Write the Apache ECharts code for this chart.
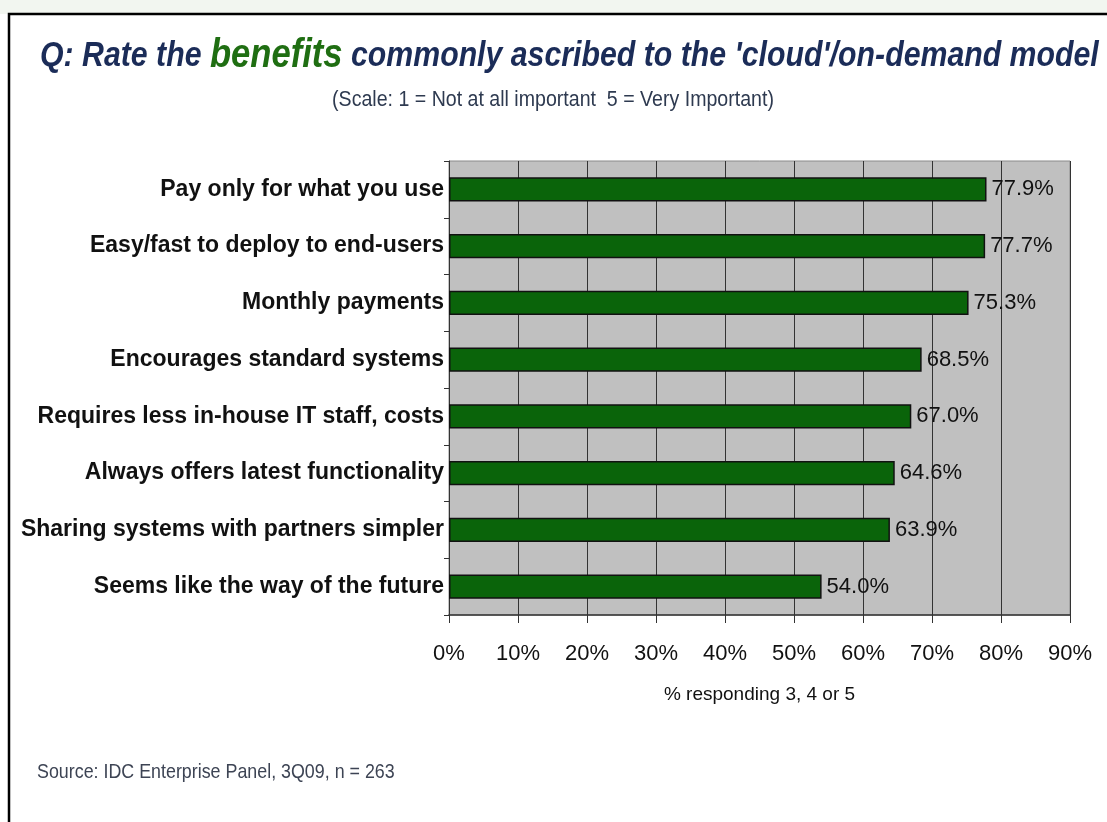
<!DOCTYPE html>
<html>
<head>
<meta charset="utf-8">
<script src="https://cdn.jsdelivr.net/npm/echarts@6/dist/echarts.min.js"></script>
<style>
html,body{margin:0;padding:0;background:#fff;}
#c{width:1107px;height:822px;}
</style>
</head>
<body>
<div id="c"></div>
<script>
const categories = [
  "Pay only for what you use",
  "Easy/fast to deploy to end-users",
  "Monthly payments",
  "Encourages standard systems",
  "Requires less in-house IT staff, costs",
  "Always offers latest functionality",
  "Sharing systems with partners simpler",
  "Seems like the way of the future"
];
const values = [77.9, 77.7, 75.3, 68.5, 67.0, 64.6, 63.9, 54.0];
const xTicks = [0, 10, 20, 30, 40, 50, 60, 70, 80, 90];

const chart = echarts.init(document.getElementById('c'), null, {renderer: 'canvas'});
const sans = "'Liberation Sans', Arial, sans-serif";
chart.setOption({
  backgroundColor: '#ffffff',
  animation: false,
  graphic: [
    {type: 'rect', z: -10, shape: {x: 0, y: 0, width: 1107, height: 14}, style: {fill: '#f2f6f0'}},
    {type: 'rect', z: 10, shape: {x: 9, y: 14, width: 1110, height: 820}, style: {fill: null, stroke: '#000', lineWidth: 2.5}},
    {type: 'text', x: 40, y: 56, scaleX: 0.865, z: 20,
      style: {
        text: "{a|Q: Rate the }{b|benefits}{a| commonly ascribed to the 'cloud'/on-demand model}",
        verticalAlign: 'middle', textVerticalAlign: 'middle',
        rich: {
          a: {fontFamily: sans, fontStyle: 'italic', fontWeight: 'bold', fontSize: 35, fill: '#1b2c58', color: '#1b2c58'},
          b: {fontFamily: sans, fontStyle: 'italic', fontWeight: 'bold', fontSize: 40, fill: '#1f6e12', color: '#1f6e12'}
        }
      }
    },
    {type: 'text', x: 553, y: 100, scaleX: 0.89, z: 20,
      style: {text: '(Scale: 1 = Not at all important  5 = Very Important)', font: "22px 'Liberation Sans', Arial, sans-serif",
        fill: '#2e3a50', textAlign: 'center', align: 'center', verticalAlign: 'middle', textVerticalAlign: 'middle'}
    },
    {type: 'text', x: 37, y: 772, scaleX: 0.85, z: 20,
      style: {text: 'Source: IDC Enterprise Panel, 3Q09, n = 263', font: "21px 'Liberation Sans', Arial, sans-serif",
        fill: '#3d4454', verticalAlign: 'middle', textVerticalAlign: 'middle'}
    }
  ],
  grid: {
    left: 449, right: 37, top: 161, bottom: 207,
    show: true, backgroundColor: '#c0c0c0', borderColor: '#8a8a8a', borderWidth: 1
  },
  xAxis: {
    type: 'value', min: xTicks[0], max: xTicks[xTicks.length - 1], interval: 10,
    axisLine: {show: true, lineStyle: {color: '#333', width: 1.5}},
    axisTick: {show: true, length: 8, lineStyle: {color: '#333'}},
    splitLine: {show: true, lineStyle: {color: '#333', width: 1}},
    axisLabel: {formatter: '{value}%', fontFamily: sans, fontSize: 22, color: '#111', margin: 28},
    name: '% responding 3, 4 or 5', nameLocation: 'middle', nameGap: 70,
    nameTextStyle: {fontFamily: sans, fontSize: 19, color: '#111'}
  },
  yAxis: {
    type: 'category', data: categories, inverse: true,
    axisLine: {show: true, lineStyle: {color: '#333', width: 1}},
    axisTick: {show: true, length: 5, lineStyle: {color: '#333'}},
    axisLabel: {fontFamily: sans, fontWeight: 'bold', fontSize: 23, color: '#111', margin: 5}
  },
  series: [{
    type: 'bar', data: values, barCategoryGap: '57%',
    itemStyle: {color: '#0a640a', borderColor: '#111', borderWidth: 1.5},
    label: {show: true, position: 'right', distance: 5, fontFamily: sans, fontSize: 22, color: '#111',
      formatter: p => p.value.toFixed(1) + '%'}
  }]
});
</script>
</body>
</html>
